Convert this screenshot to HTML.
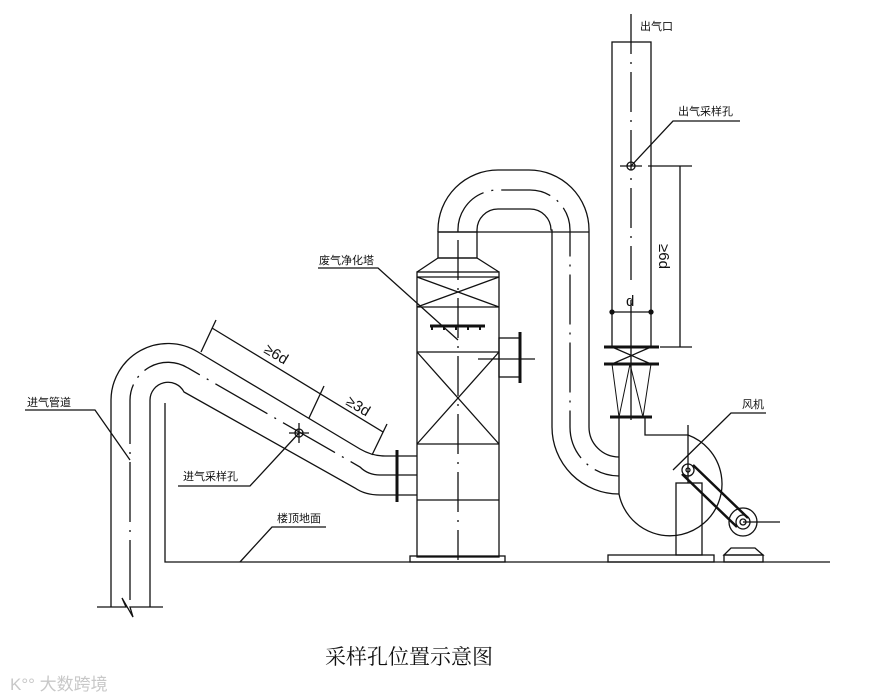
<!DOCTYPE html>
<html><head><meta charset="utf-8"><style>
html,body{margin:0;padding:0;background:#fff;}
svg{display:block;}
text{font-family:"Liberation Sans","Noto Sans CJK SC",sans-serif;fill:#111;}
</style></head><body>
<svg width="887" height="700" viewBox="0 0 887 700" xmlns="http://www.w3.org/2000/svg">
<g fill="none" stroke="#111" stroke-width="1.3">
<!-- inlet pipe -->
<path d="M111,607 L111,400 A57,57 0 0 1 198,352 L360,449 Q372,456 385,456 L395,456"/>
<path d="M150,607 L150,400 A18,18 0 0 1 184,392 L355,488 Q365,495 380,495 L395,495"/>
<path d="M130,600 L130,400 A38,38 0 0 1 188,368 L360,467 Q368,475 380,475 L395,475" stroke-dasharray="60,8,2,8"/>
<path d="M97,607 L126,607 L122,598 L133,617 L130,607 L163,607"/>
<line x1="395" y1="456" x2="417" y2="456"/><line x1="395" y1="475" x2="417" y2="475"/><line x1="395" y1="495" x2="417" y2="495"/>
<line x1="397" y1="450" x2="397" y2="502" stroke-width="3"/>
<!-- ground -->
<path d="M165,403 L165,562 L830,562"/>
<!-- dimension on inlet -->
<line x1="212" y1="328" x2="383" y2="432"/>
<line x1="216" y1="320" x2="201" y2="352"/><line x1="324" y1="386" x2="309" y2="418"/><line x1="387" y1="424" x2="372" y2="455"/>
<!-- sample hole inlet -->
<circle cx="299" cy="433" r="4"/><line x1="289" y1="433" x2="309" y2="433"/><line x1="299" y1="423" x2="299" y2="443"/>
<path d="M299,433 L250,486 L178,486"/>
<!-- labels leaders -->
<path d="M25,410 L95,410 L130,460"/>
<path d="M326,527 L272,527 L240,562"/>
<!-- tower -->
<rect x="417" y="272" width="82" height="285"/>
<path d="M417,272 L438,258 L477,258 L499,272"/>
<line x1="417" y1="277" x2="499" y2="277"/><line x1="417" y1="307" x2="499" y2="307"/>
<line x1="417" y1="277" x2="499" y2="307"/><line x1="499" y1="277" x2="417" y2="307"/>
<line x1="417" y1="352" x2="499" y2="352"/><line x1="417" y1="444" x2="499" y2="444"/><line x1="417" y1="500" x2="499" y2="500"/>
<line x1="417" y1="352" x2="499" y2="444"/><line x1="499" y1="352" x2="417" y2="444"/>
<rect x="410" y="556" width="95" height="6"/>
<line x1="458" y1="240" x2="458" y2="560" stroke-dasharray="40,8,2,8"/>
<line x1="430" y1="326" x2="485" y2="326" stroke-width="3"/>
<path d="M432,326 l0,4 M444,326 l0,4 M456,326 l0,4 M468,326 l0,4 M480,326 l0,4" stroke-width="2"/>
<path d="M318,268 L378,268 L458,340"/>
<rect x="499" y="338" width="21" height="39"/>
<line x1="520" y1="332" x2="520" y2="383" stroke-width="3"/>
<line x1="478" y1="359" x2="535" y2="359"/>
<!-- U duct -->
<rect x="438" y="232" width="39" height="26"/>
<path d="M438,232 L438,230 A60,60 0 0 1 498,170 L529,170 A60,60 0 0 1 589,230 L589,427 A30,30 0 0 0 619,457"/>
<path d="M477,232 L477,230 A21,21 0 0 1 498,209 L530,209 A21,21 0 0 1 551,230 L552,230 L552,427 A67,67 0 0 0 619,494"/>
<path d="M458,232 A40,40 0 0 1 498,190 L530,190 A40,40 0 0 1 570,230 L570,427 A49,49 0 0 0 619,476" stroke-dasharray="50,8,2,8"/>
<line x1="438" y1="232" x2="589" y2="232"/>
<!-- stack -->
<rect x="612" y="42" width="39" height="305"/>
<line x1="631" y1="14" x2="631" y2="280" stroke-dasharray="40,8,2,8"/>
<line x1="631" y1="300" x2="631" y2="420"/>
<circle cx="631" cy="166" r="4"/><line x1="620" y1="166" x2="642" y2="166"/>
<path d="M631,166 L673,121 L740,121"/>
<line x1="648" y1="166" x2="692" y2="166"/><line x1="660" y1="347" x2="692" y2="347"/>
<line x1="680" y1="166" x2="680" y2="347"/>
<line x1="612" y1="312" x2="651" y2="312"/>
<circle cx="612" cy="312" r="2" fill="#111"/><circle cx="651" cy="312" r="2" fill="#111"/>
<line x1="604" y1="347" x2="659" y2="347" stroke-width="3"/>
<line x1="604" y1="364" x2="659" y2="364" stroke-width="3"/>
<line x1="612" y1="347" x2="651" y2="364"/><line x1="651" y1="347" x2="612" y2="364"/>
<path d="M612,364 L619,417 L630,364 L643,417 L651,364" stroke-width="1"/>
<line x1="610" y1="417" x2="652" y2="417" stroke-width="3"/>
<!-- fan -->
<path d="M619,417 L619,494"/>
<path d="M645,417 L645,435 L688,435"/>
<path d="M688,435 A52,52 0 1 1 619,494" />
<line x1="688" y1="425" x2="688" y2="483"/>
<rect x="676" y="483" width="26" height="72"/>
<rect x="608" y="555" width="106" height="7"/>
<circle cx="688" cy="470" r="6"/><circle cx="688" cy="470" r="2"/>
<line x1="682" y1="474" x2="737" y2="527" stroke-width="2.5"/>
<line x1="693" y1="465" x2="748" y2="518" stroke-width="2.5"/>
<circle cx="743" cy="522" r="14"/><circle cx="743" cy="522" r="7"/><circle cx="743" cy="522" r="3"/>
<line x1="743" y1="522" x2="780" y2="522"/>
<path d="M731,548 L755,548 L763,555 L724,555 Z"/>
<rect x="724" y="555" width="39" height="7"/>
<path d="M673,470 L731,413 L766,413"/>
</g>
<g font-size="11">
<text x="640" y="30">出气口</text>
<text x="678" y="115">出气采样孔</text>
<text x="319" y="264">废气净化塔</text>
<text x="183" y="480">进气采样孔</text>
<text x="27" y="406">进气管道</text>
<text x="277" y="522">楼顶地面</text>
<text x="742" y="408">风机</text>
</g>
<g font-size="15" font-family="Liberation Sans">
<text x="0" y="0" transform="translate(263,352) rotate(31)">≥6d</text>
<text x="0" y="0" transform="translate(345,404) rotate(31)">≥3d</text>
<text x="0" y="0" transform="translate(659,244) rotate(90)">≥6d</text>
<text x="626" y="306">d</text>
</g>
<text x="325" y="664" font-size="21" style="font-family:'Liberation Serif','Noto Serif CJK SC',serif">采样孔位置示意图</text>
<text x="10" y="690" font-size="17" fill="#ccc" style="fill:#c8c8c8">K°° 大数跨境</text>
</svg>
</body></html>
